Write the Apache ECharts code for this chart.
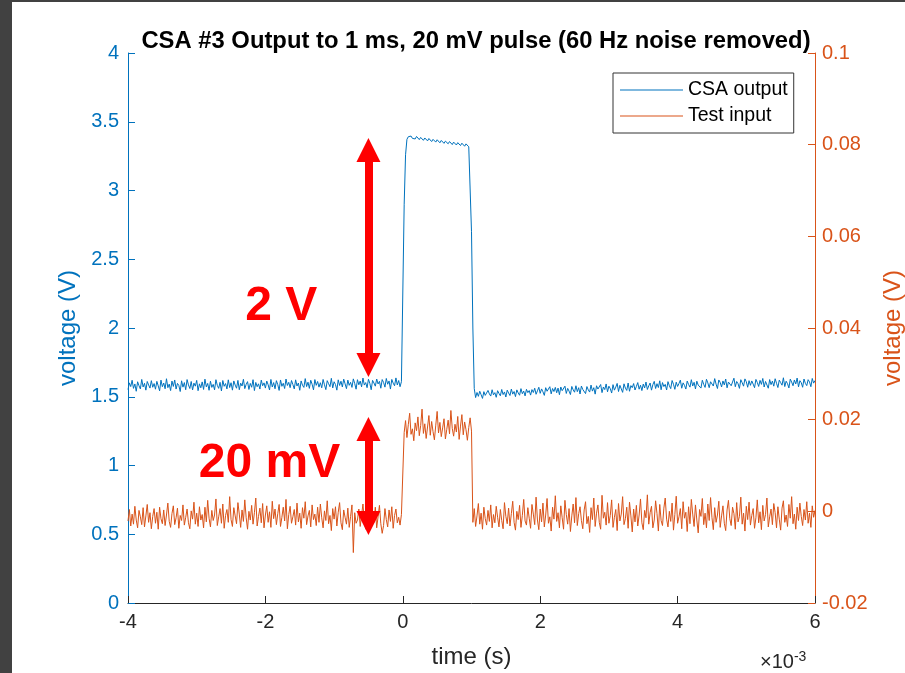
<!DOCTYPE html>
<html>
<head>
<meta charset="utf-8">
<script src="https://cdn.jsdelivr.net/npm/echarts@6/dist/echarts.min.js"></script>
<style>
  html, body { margin: 0; padding: 0; background: #ffffff; overflow: hidden; }
  #chart { width: 905px; height: 673px; }
</style>
</head>
<body>
<div id="chart"></div>
<script>
// Sampling grid of the scope capture (milliseconds)
const T_START_MS = -4;
const T_STEP_MS = 0.02;

// CSA output, millivolts, one sample per grid step
const csaOutputMv = [
  1552,1601,1574,1620,1561,1593,1540,1609,1580,1557,1626,1571,1598,1548,1611,1586,1563,1617,1569,1596,
  1555,1612,1579,1543,1621,1573,1600,1558,1631,1566,1592,1545,1614,1575,1622,1556,1597,1582,1538,1616,
  1570,1603,1551,1625,1586,1560,1611,1549,1599,1577,1619,1544,1594,1565,1608,1553,1628,1572,1597,1547,
  1613,1568,1590,1550,1624,1583,1561,1605,1542,1618,1576,1596,1557,1623,1567,1602,1548,1615,1585,1562,
  1619,1551,1599,1578,1627,1559,1590,1610,1553,1597,1569,1624,1545,1604,1573,1594,1556,1621,1580,1601,
  1563,1614,1587,1549,1626,1571,1603,1558,1617,1588,1546,1622,1576,1598,1560,1629,1582,1605,1566,1618,
  1589,1557,1623,1578,1600,1547,1615,1584,1568,1632,1574,1606,1561,1620,1591,1550,1625,1583,1611,1570,
  1602,1565,1626,1587,1552,1617,1595,1573,1634,1564,1609,1589,1548,1623,1582,1613,1571,1628,1594,1559,
  1621,1583,1605,1568,1630,1596,1555,1624,1587,1614,1572,1636,1585,1603,1566,1627,1598,1551,1619,1600,
  1577,1629,1593,1612,1562,1625,1604,1570,1633,1591,1615,1556,1626,1599,1580,1637,1586,1618,1573,1610,
  1600,2900,3260,
  3372,3391,3384,3396,3379,3388,3375,3393,3381,3370,3386,3377,3365,3382,3373,3361,3378,3368,3356,3372,
  3363,3352,3369,3358,3347,3364,3355,3343,3359,3350,3340,3356,3346,3334,3352,3341,3331,3348,3337,3327,
  3344,3333,3322,3339,3326,3318,3330,
  2700,2000,1560,
  1494,1531,1503,1540,1515,1488,1537,1510,1499,1546,1521,1505,1551,1514,1530,1496,1544,1524,1507,1553,
  1516,1535,1498,1548,1527,1509,1556,1519,1538,1501,1550,1528,1511,1559,1522,1541,1506,1554,1530,1545,
  1512,1552,1531,1562,1518,1543,1569,1525,1557,1536,1510,1566,1540,1527,1573,1521,1560,1538,1568,1529,
  1563,1515,1571,1544,1532,1577,1524,1561,1541,1516,1575,1550,1533,1580,1537,1566,1520,1578,1553,1542,
  1523,1574,1550,1534,1585,1541,1566,1519,1580,1556,1543,1589,1530,1571,1552,1593,1536,1577,1559,1527,
  1588,1548,1570,1597,1538,1583,1557,1532,1594,1563,1546,1600,1540,1581,1566,1596,1549,1575,1603,1555,
  1584,1545,1592,1564,1607,1553,1579,1600,1548,1588,1612,1560,1595,1567,1616,1551,1603,1574,1590,1549,
  1610,1580,1559,1618,1591,1554,1606,1575,1597,1621,1562,1601,1583,1556,1614,1589,1570,1624,1578,1605,
  1557,1613,1585,1596,1563,1620,1590,1568,1627,1601,1566,1609,1616,1578,1632,1592,1560,1622,1604,1571,
  1615,1586,1629,1565,1607,1618,1580,1594,1635,1573,1611,1595,1561,1624,1602,1577,1630,1609,1569,1617,
  1583,1615,1592,1566,1626,1604,1575,1619,1590,1633,1571,1611,1600,1562,1625,1588,1614,1577,1631,1598,
  1567,1621,1603,1584,1638,1574,1613,1595,1564,1628,1607,1580,1622,1593,1636,1572,1617,1602,1569,1629,
  1597,1581,1624,1608,1573,1633,1599,1618
];

// Test input pulse, millivolts, same grid
const testInputMv = [
  -2.1,0.4,-3.2,-0.6,-2.8,1.1,-1.9,-3.6,0.2,-1.2,-2.9,0.8,-3.4,-1.0,1.5,-2.4,-0.3,-3.8,-1.1,0.6,
  -2.6,-0.2,-3.9,0.9,-1.6,-2.7,0.3,-3.1,-0.8,1.8,-2.2,-3.5,-0.5,1.2,-2.9,-1.4,0.7,-3.7,-0.9,-2.0,
  1.4,-3.0,-1.3,0.5,-2.5,-3.8,0.1,-1.7,2.0,-2.8,-0.4,-3.3,1.0,-1.9,-0.7,-3.6,0.9,-2.3,2.4,-1.5,
  -3.4,0.2,-2.0,-0.8,2.7,-3.1,-1.2,0.6,-2.6,1.6,-3.7,-0.9,0.4,-2.4,3.2,-1.8,-3.3,0.8,-1.0,-2.7,
  1.9,-0.6,-3.5,0.3,-2.2,2.5,-1.4,-3.9,0.0,-1.9,1.3,-2.8,-0.3,2.9,-3.2,-1.1,0.7,-2.5,1.7,-3.6,
  -0.8,1.2,-2.4,-0.1,-3.5,2.2,-1.6,0.5,-2.9,-0.5,1.5,-3.3,-1.3,0.9,-2.1,2.6,-3.8,-0.7,1.1,-2.6,
  -1.2,0.4,-3.0,1.8,-2.3,-0.4,-3.7,0.8,-1.5,2.1,-2.9,-1.0,0.2,-3.4,1.4,-1.8,-0.6,-3.1,0.9,-2.4,
  1.6,-1.4,-3.6,0.1,-2.0,2.3,-2.7,-0.9,-4.2,0.6,-1.7,1.0,-3.2,-0.2,1.9,-2.5,-4.0,0.3,-1.3,-2.8,
  0.7,-3.5,-1.1,1.4,-9.0,-0.3,-2.6,-1.9,0.5,-3.3,-0.8,1.6,-2.2,-3.9,0.2,-1.5,1.1,-3.0,-0.6,-2.4,
  0.9,-3.6,-1.2,1.3,-2.7,-4.8,-3.1,0.6,-1.8,-3.4,0.3,-2.2,1.0,-3.7,-0.9,0.5,-2.5,-1.3,-3.0,-0.7,
  -0.9,
  17.2,19.8,16.1,18.9,21.4,16.8,18.0,15.4,19.3,17.6,20.6,16.5,18.7,22.3,17.0,19.1,15.9,18.4,20.9,16.6,
  19.6,17.4,15.6,18.8,21.8,17.1,19.4,16.3,18.2,20.2,15.8,17.9,19.9,16.9,22.0,18.1,16.4,19.0,17.3,20.7,
  15.7,18.6,21.1,16.7,19.5,17.8,15.5,18.3,20.4,17.5,
  -2.4,0.6,-3.3,-1.0,1.7,-2.8,-0.4,-3.9,0.9,-1.6,-3.0,0.2,-2.2,1.4,-3.6,-0.7,-2.5,1.1,-1.3,-3.4,
  0.4,-2.0,-3.8,1.9,-1.1,-2.7,0.7,-3.2,-0.5,2.2,-2.4,-4.1,0.0,-1.8,1.3,-3.5,-0.9,2.6,-2.1,-3.0,
  0.8,-1.5,-3.7,1.5,-0.6,-2.9,3.1,-1.9,-4.0,0.5,-2.3,1.8,-3.4,-0.8,2.8,-2.6,-1.2,-4.3,0.9,-1.7,
  3.4,-2.2,-0.3,-3.6,1.2,-1.4,-3.9,2.4,-0.7,-2.8,0.6,-4.4,-1.0,1.6,-2.5,3.0,-3.1,-0.5,1.0,-2.0,
  -3.8,0.3,2.1,-2.7,-1.1,-4.6,0.8,-1.8,2.9,-3.3,-0.4,1.4,-2.4,-3.9,3.5,-1.5,-0.2,-3.0,1.9,-2.6,
  -0.9,2.5,-3.5,-1.3,0.4,-4.2,1.7,-2.1,-0.6,3.2,-2.9,-1.6,0.9,-3.7,2.0,-1.0,-4.5,0.5,-2.3,1.3,
  -3.2,-0.8,2.7,-2.5,-4.0,0.2,-1.4,3.6,-2.8,-0.3,1.1,-3.6,-1.9,2.3,-0.5,-4.3,1.5,-2.0,-3.1,0.7,
  2.9,-1.7,-3.4,0.0,-2.2,1.8,-4.1,-0.7,3.3,-2.6,-1.2,0.6,-3.8,2.1,-1.5,-0.2,-4.4,1.0,-2.7,2.6,
  -0.6,-3.3,1.4,-1.9,-4.7,0.4,-1.1,2.8,-2.9,-0.4,-3.6,1.6,-2.0,3.0,-1.3,-4.0,0.8,-2.4,-0.8,2.2,
  -3.5,-1.0,1.2,-2.6,-4.2,0.3,2.4,-1.6,-3.1,0.9,-0.5,-3.9,1.9,-2.3,-1.1,3.1,-2.8,-0.4,-4.3,1.1,
  -1.8,2.0,-3.0,-0.9,0.6,-3.7,-1.4,2.5,-2.5,-0.1,-4.0,1.3,-2.1,-0.7,2.9,-3.4,-1.2,0.5,-2.9,1.7,
  -0.3,-3.6,1.0,-1.7,-4.1,0.7,2.3,-2.4,-0.8,-3.3,1.5,-1.5,3.2,-2.7,-0.6,-3.9,0.9,-2.0,1.8,-1.1,
  -3.1,0.4,-1.9,2.1,-2.6,-0.4,-3.5,1.2,-1.3,0.2
];

// Axis ranges and tick spacing
const timeTicksMs = { min: -4, max: 6, step: 2 };
const leftTicksV = { min: 0, max: 4, step: 0.5 };
const rightTicksV = { min: -0.02, max: 0.1, step: 0.02 };

// Amplitude markers: [time ms, top V, bottom V] on the left axis scale
const outputSpanMarker = [-0.5, 3.295, 1.731];
const inputSpanMarker = [-0.5, 1.265, 0.582];
const markerLabels = [
  { text: '2 V', coord: [-1.77, 2.153] },
  { text: '20 mV', coord: [-1.94, 1.01] }
];

const seriesNames = ['CSA output', 'Test input'];
const BLUE = '#0072BD';
const ORANGE = '#D95319';
const FONT = '"Liberation Sans", Arial, Helvetica, sans-serif';

const timeMs = csaOutputMv.map((_, i) => +(T_START_MS + i * T_STEP_MS).toFixed(2));
const csaPoints = timeMs.map((t, i) => [t, csaOutputMv[i] / 1000]);
const inputPoints = timeMs.map((t, i) => [t, testInputMv[i] / 1000]);

const chart = echarts.init(document.getElementById('chart'), null, { renderer: 'canvas' });

const option = {
  animation: false,
  backgroundColor: '#ffffff',
  textStyle: { fontFamily: FONT },
  title: {
    text: 'CSA #3 Output to 1 ms, 20 mV pulse (60 Hz noise removed)',
    left: 471, top: 24, textAlign: 'center',
    textStyle: { fontFamily: FONT, fontSize: 23.8, fontWeight: 'bold', color: '#000000' }
  },
  legend: {
    data: seriesNames,
    orient: 'vertical',
    left: 613, top: 73,
    padding: [7, 6, 7, 7],
    itemGap: 6,
    itemWidth: 63,
    itemHeight: 1.2,
    icon: 'rect',
    borderColor: '#333333',
    borderWidth: 1,
    backgroundColor: '#ffffff',
    textStyle: { fontFamily: FONT, fontSize: 19.5, color: '#000000', padding: [0, 0, 0, 0] }
  },
  grid: { left: 128, right: 90, top: 53, bottom: 70, containLabel: false, outerBoundsMode: 'none' },
  xAxis: {
    type: 'value',
    min: timeTicksMs.min, max: timeTicksMs.max, interval: timeTicksMs.step,
    name: 'time (s)', nameLocation: 'middle', nameGap: 42,
    nameTextStyle: { fontFamily: FONT, fontSize: 24, color: '#262626' },
    axisLine: { show: true, onZero: false, lineStyle: { color: '#262626', width: 1 } },
    axisTick: { show: true, inside: true, length: 7, lineStyle: { color: '#262626' } },
    axisLabel: { fontFamily: FONT, fontSize: 20, color: '#262626', margin: 9 },
    splitLine: { show: false }
  },
  yAxis: [
    {
      type: 'value', position: 'left',
      min: leftTicksV.min, max: leftTicksV.max, interval: leftTicksV.step,
      name: 'voltage (V)', nameLocation: 'middle', nameGap: 42, nameRotate: 90,
      nameTextStyle: { fontFamily: FONT, fontSize: 24, color: BLUE },
      axisLine: { show: true, onZero: false, lineStyle: { color: BLUE, width: 1 } },
      axisTick: { show: true, inside: true, length: 7, lineStyle: { color: BLUE } },
      axisLabel: { fontFamily: FONT, fontSize: 20, color: BLUE, margin: 9 },
      splitLine: { show: false }
    },
    {
      type: 'value', position: 'right',
      min: rightTicksV.min, max: rightTicksV.max, interval: rightTicksV.step,
      name: 'voltage (V)', nameLocation: 'middle', nameGap: 66, nameRotate: 90,
      nameTextStyle: { fontFamily: FONT, fontSize: 24, color: ORANGE },
      axisLine: { show: true, onZero: false, lineStyle: { color: ORANGE, width: 1 } },
      axisTick: { show: true, inside: true, length: 7, lineStyle: { color: ORANGE } },
      axisLabel: {
        fontFamily: FONT, fontSize: 20, color: ORANGE, margin: 7,
        formatter: v => (Math.abs(v) < 1e-9 ? '0' : (+v.toFixed(2)).toString())
      },
      splitLine: { show: false }
    }
  ],
  series: [
    {
      name: seriesNames[0],
      type: 'line',
      yAxisIndex: 0,
      data: csaPoints,
      showSymbol: false,
      symbol: 'none',
      color: BLUE,
      lineStyle: { color: BLUE, width: 1 },
      z: 3,
      markLine: {
        silent: true,
        symbol: ['triangle', 'triangle'],
        symbolSize: [24, 24],
        label: { show: false },
        lineStyle: { color: '#ff0000', width: 8, type: 'solid' },
        emphasis: { disabled: true },
        data: [
          [{ coord: [outputSpanMarker[0], outputSpanMarker[1]] }, { coord: [outputSpanMarker[0], outputSpanMarker[2]] }],
          [{ coord: [inputSpanMarker[0], inputSpanMarker[1]] }, { coord: [inputSpanMarker[0], inputSpanMarker[2]] }]
        ]
      },
      markPoint: {
        silent: true,
        symbol: 'circle',
        symbolSize: 0,
        label: {
          show: true, position: 'inside',
          fontFamily: FONT, fontSize: 48, fontWeight: 'bold', color: '#ff0000',
          formatter: p => p.name
        },
        data: markerLabels.map(m => ({ name: m.text, coord: m.coord }))
      }
    },
    {
      name: seriesNames[1],
      type: 'line',
      yAxisIndex: 1,
      data: inputPoints,
      showSymbol: false,
      symbol: 'none',
      color: ORANGE,
      lineStyle: { color: ORANGE, width: 1 },
      z: 2
    }
  ],
  graphic: [
    { type: 'rect', left: 0, top: 0, shape: { width: 12, height: 673 }, style: { fill: '#414141' }, z: 100 },
    { type: 'rect', left: 0, top: 0, shape: { width: 905, height: 2 }, style: { fill: '#414141' }, z: 100 },
    {
      type: 'text', left: 760, top: 650, z: 100,
      style: {
        text: '×10{sup|-3}',
        fontFamily: FONT, fontSize: 20, fill: '#262626',
        rich: { sup: { fontFamily: FONT, fontSize: 14, verticalAlign: 'top', padding: [0, 0, 10, 0], fill: '#262626' } }
      }
    }
  ]
};

chart.setOption(option);
</script>
</body>
</html>
